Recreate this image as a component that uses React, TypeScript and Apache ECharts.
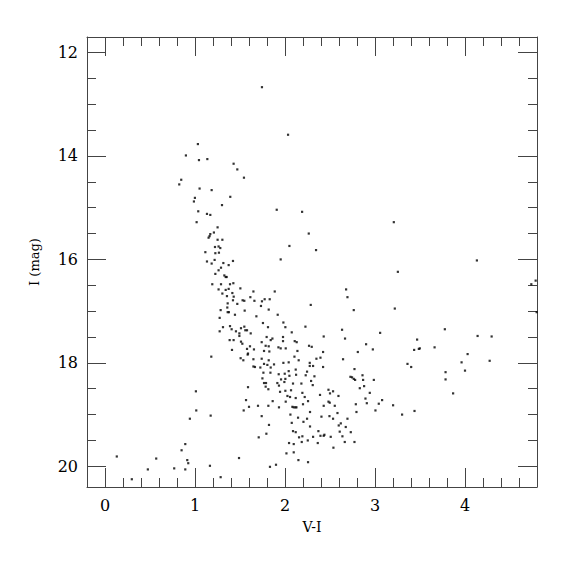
import React, { useEffect, useRef } from "react";
import * as echarts from "echarts";

// V-I colour of each star
const VI: number[] = [
  1.744, 2.034, 1.032, 0.899, 1.044, 1.137, 1.429, 1.47, 1.544, 0.847, 0.825, 1.051, 1.185, 1.392, 0.999, 0.988,
  1.3, 1.908, 2.19, 1.036, 1.133, 1.17, 1.018, 2.264, 1.251, 1.21, 1.17, 1.162, 1.151, 1.251, 1.304, 2.049,
  2.345, 1.222, 1.262, 1.281, 1.115, 1.226, 1.266, 1.952,
  3.209, 4.132, 3.254, 4.785, 4.737, 2.679, 2.694, 2.764, 3.22, 4.796,
  2.286, 2.227, 2.634, 3.776, 2.43, 2.667, 3.057, 3.468, 4.14, 4.296, 2.267, 2.297, 2.901, 2.976, 3.435, 3.487,
  3.498, 3.662, 2.423, 2.809, 2.645, 2.394, 2.349, 4.029, 3.962, 4.274, 3.361, 3.402, 2.275, 2.275, 2.312, 2.423,
  2.772, 2.245, 3.784, 4.0, 2.23, 2.327, 2.727, 2.745, 2.764, 2.779, 2.861, 2.868, 2.987, 3.784, 2.29, 2.182,
  2.308, 2.879, 2.831, 2.483, 2.534, 2.5, 2.942, 3.868, 2.193, 2.389, 2.594, 2.219, 2.894, 2.256, 3.079, 2.483,
  2.497, 2.909, 3.042, 2.2, 2.787, 2.43, 2.553, 3.201, 3.005, 3.439, 3.301, 2.278, 2.794, 2.405, 2.494, 2.583,
  2.534, 2.694, 2.205, 2.245, 2.62, 2.597, 2.278, 2.675, 2.371, 2.608, 2.731, 2.193, 2.312, 2.394, 2.43, 2.438,
  2.508, 2.638, 2.253, 2.186, 2.364, 2.664, 2.772, 2.538,
  1.133, 1.185, 1.218, 1.315, 1.374, 1.422, 1.289, 1.262, 1.226, 1.326, 1.341, 1.352, 1.192, 1.289, 1.389, 1.426,
  1.262, 1.341, 1.374, 1.504, 1.304, 1.415, 1.649, 1.886, 1.355, 1.43, 1.615, 1.422, 1.529, 1.548, 1.66, 1.744,
  1.774, 1.83, 1.363, 1.47, 1.733, 1.359, 1.819, 1.285, 1.363, 1.377, 1.552, 1.444, 1.919, 1.274, 1.682, 1.755,
  1.811, 1.311, 1.389, 1.407, 1.455, 1.511, 1.548, 1.559, 1.578, 1.619, 1.274, 1.493, 1.493, 1.796, 1.385, 1.429,
  1.511, 1.741, 1.526, 1.611, 1.578, 1.655, 1.785, 1.819, 1.86, 1.841, 1.411, 1.589, 1.585, 1.767, 1.826, 1.927,
  1.507, 1.537, 1.649, 1.741, 1.819, 1.181, 1.767, 1.804, 1.649, 1.666, 1.726, 1.841, 1.878,
  1.982, 2.004, 2.075, 1.978, 1.978, 1.952, 2.008, 2.108, 2.13, 2.105, 2.138, 2.041, 1.982, 2.152, 2.119, 2.041,
  1.997, 1.93, 2.049, 2.123, 1.76, 1.838, 1.956, 2.004, 1.749, 1.767, 1.915, 2.089, 1.993, 1.789, 1.785, 1.815,
  1.933, 1.945, 2.004, 2.067, 2.027, 2.056, 2.119, 1.589, 1.567, 1.863, 2.008, 2.082, 2.097, 2.116, 2.127, 1.933,
  1.815, 1.70, 1.6, 1.541, 2.06, 1.741, 2.145, 1.822, 2.075, 2.089, 2.119, 1.793, 1.708, 2.156, 2.045, 2.097,
  2.016, 2.097,
  1.01, 1.014, 0.943, 1.174, 0.892, 0.851, 0.914, 0.925, 0.569, 0.769, 0.892, 1.166, 1.285, 1.489, 1.833, 1.9,
  2.149, 2.256, 0.131, 0.298, 0.476,
];

// I magnitude of each star
const IMAG: number[] = [
  12.67, 13.59, 13.77, 13.99, 14.08, 14.06, 14.15, 14.26, 14.42, 14.46, 14.55, 14.63, 14.66, 14.79, 14.81, 14.88,
  14.95, 15.04, 15.08, 15.07, 15.12, 15.14, 15.28, 15.5, 15.38, 15.48, 15.51, 15.55, 15.58, 15.62, 15.62, 15.74,
  15.82, 15.76, 15.75, 15.78, 15.86, 15.88, 15.87, 16.0,
  15.28, 16.02, 16.24, 16.41, 16.48, 16.58, 16.73, 16.98, 16.95, 17.02,
  16.88, 17.3, 17.36, 17.35, 17.49, 17.53, 17.42, 17.55, 17.48, 17.49, 17.67, 17.69, 17.64, 17.74, 17.75, 17.73,
  17.72, 17.7, 17.79, 17.79, 17.93, 17.9, 17.92, 17.83, 17.99, 17.96, 18.02, 18.08, 18.0, 18.06, 18.06, 18.08,
  18.12, 18.17, 18.18, 18.15, 18.24, 18.26, 18.27, 18.28, 18.31, 18.33, 18.24, 18.33, 18.33, 18.32, 18.35, 18.4,
  18.43, 18.45, 18.49, 18.52, 18.55, 18.59, 18.58, 18.59, 18.58, 18.62, 18.64, 18.66, 18.69, 18.74, 18.72, 18.75,
  18.77, 18.78, 18.79, 18.8, 18.8, 18.83, 18.83, 18.82, 18.92, 18.93, 19.0, 18.95, 18.95, 19.04, 19.03, 18.97,
  19.08, 19.08, 19.14, 19.08, 19.17, 19.21, 19.23, 19.24, 19.32, 19.33, 19.34, 19.42, 19.43, 19.41, 19.41, 19.39,
  19.43, 19.42, 19.5, 19.53, 19.55, 19.53, 19.53, 19.64,
  16.04, 16.08, 16.01, 16.07, 16.11, 16.03, 16.16, 16.21, 16.28, 16.31, 16.34, 16.34, 16.48, 16.48, 16.48, 16.46,
  16.58, 16.59, 16.57, 16.56, 16.66, 16.65, 16.62, 16.62, 16.71, 16.72, 16.73, 16.79, 16.79, 16.8, 16.8, 16.81,
  16.77, 16.77, 16.85, 16.86, 16.9, 16.93, 16.97, 16.98, 17.02, 17.02, 16.99, 17.07, 17.07, 17.13, 17.1, 17.23,
  17.31, 17.31, 17.29, 17.35, 17.39, 17.33, 17.3, 17.37, 17.37, 17.43, 17.39, 17.43, 17.48, 17.5, 17.56, 17.56,
  17.59, 17.6, 17.63, 17.68, 17.73, 17.74, 17.67, 17.68, 17.53, 17.56, 17.75, 17.82, 17.84, 17.77, 17.78, 17.7,
  17.91, 17.95, 17.93, 17.92, 17.95, 17.88, 18.02, 18.04, 18.07, 18.08, 18.09, 18.09, 18.03,
  17.22, 17.31, 17.41, 17.5, 17.58, 17.72, 17.72, 17.58, 17.6, 17.88, 17.77, 17.99, 18.0, 17.95, 18.13, 18.16,
  18.21, 18.22, 18.25, 18.23, 18.19, 18.19, 18.32, 18.31, 18.3, 18.39, 18.39, 18.4, 18.37, 18.39, 18.46, 18.51,
  18.44, 18.56, 18.54, 18.53, 18.64, 18.66, 18.68, 18.47, 18.72, 18.74, 18.75, 18.85, 18.86, 18.86, 18.86, 18.86,
  18.83, 18.83, 18.85, 18.92, 19.0, 19.03, 19.06, 19.2, 19.16, 19.32, 19.34, 19.37, 19.44, 19.44, 19.55, 19.57,
  19.75, 19.73,
  18.55, 18.92, 19.08, 19.02, 19.57, 19.69, 19.88, 19.94, 19.85, 20.04, 20.06, 19.99, 20.21, 19.84, 20.01, 19.97,
  19.88, 19.92, 19.81, 20.25, 20.06,
];

const X_MAJOR_TICKS = [0, 1, 2, 3, 4];
const Y_MAJOR_TICKS = [12, 14, 16, 18, 20];

const X_RANGE = [-0.2, 4.8];
const Y_RANGE = [11.7, 20.4];

export default function App() {
  const ref = useRef<HTMLDivElement>(null);

  useEffect(() => {
    document.body.style.margin = "0";
    if (!ref.current) return;
    const chart = echarts.init(ref.current, undefined, { renderer: "svg" });

    const L = 87, T = 37, W = 450, H = 450;
    const xUnit = W / (X_RANGE[1] - X_RANGE[0]);
    const yUnit = H / (Y_RANGE[1] - Y_RANGE[0]);
    const xMajLeft = L + (X_MAJOR_TICKS[0] - X_RANGE[0]) * xUnit;
    const xMajW = (X_MAJOR_TICKS[X_MAJOR_TICKS.length - 1] - X_MAJOR_TICKS[0]) * xUnit;
    const yMajTop = T + (Y_MAJOR_TICKS[0] - Y_RANGE[0]) * yUnit;
    const yMajH = (Y_MAJOR_TICKS[Y_MAJOR_TICKS.length - 1] - Y_MAJOR_TICKS[0]) * yUnit;

    const lineColor = "#444";
    const font = "DejaVu Serif";
    const labelStyle = { fontFamily: font, fontSize: 16, color: "#000" };
    const noLine = { show: false };
    const minorTick = { show: true, inside: true, length: 9, lineStyle: { color: lineColor, width: 1 } };
    const majorTick = { show: true, inside: true, length: 19, lineStyle: { color: lineColor, width: 1 } };
    const axisLine = { show: true, onZero: false, lineStyle: { color: lineColor, width: 1 } };

    const data = VI.map((v, i) => [v, IMAG[i]]);

    chart.setOption({
      animation: false,
      backgroundColor: "#fff",
      grid: [
        { left: L, top: T, width: W, height: H },
        { left: xMajLeft, top: T, width: xMajW, height: H },
        { left: L, top: yMajTop, width: W, height: yMajH },
        { left: L, top: yMajTop, width: W, height: yMajH },
      ],
      xAxis: [
        {
          gridIndex: 0, type: "value", position: "bottom", min: X_RANGE[0], max: X_RANGE[1], interval: 0.2,
          axisLine, axisTick: minorTick, axisLabel: { show: false }, splitLine: { show: false },
          name: "V-I", nameLocation: "middle", nameGap: 33,
          nameTextStyle: { fontFamily: font, fontSize: 14, color: "#000" },
        },
        {
          gridIndex: 0, type: "value", position: "top", min: X_RANGE[0], max: X_RANGE[1], interval: 0.2,
          axisLine, axisTick: minorTick, axisLabel: { show: false }, splitLine: { show: false },
        },
        {
          gridIndex: 1, type: "value", position: "bottom", min: X_MAJOR_TICKS[0],
          max: X_MAJOR_TICKS[X_MAJOR_TICKS.length - 1], interval: 1,
          axisLine: noLine, axisTick: majorTick, splitLine: { show: false },
          axisLabel: { show: true, margin: 10, ...labelStyle },
        },
        {
          gridIndex: 1, type: "value", position: "top", min: X_MAJOR_TICKS[0],
          max: X_MAJOR_TICKS[X_MAJOR_TICKS.length - 1], interval: 1,
          axisLine: noLine, axisTick: majorTick, splitLine: { show: false }, axisLabel: { show: false },
        },
        { gridIndex: 2, type: "value", show: false },
        { gridIndex: 3, type: "value", show: false },
      ],
      yAxis: [
        {
          gridIndex: 0, type: "value", position: "left", inverse: true, min: Y_RANGE[0], max: Y_RANGE[1],
          axisLine, axisTick: { show: false }, axisLabel: { show: false }, splitLine: { show: false },
          name: "I (mag)", nameLocation: "middle", nameGap: 46, nameRotate: 90,
          nameTextStyle: { fontFamily: font, fontSize: 13, color: "#000" },
        },
        {
          gridIndex: 0, type: "value", position: "right", inverse: true, min: Y_RANGE[0], max: Y_RANGE[1],
          axisLine, axisTick: { show: false }, axisLabel: { show: false }, splitLine: { show: false },
        },
        { gridIndex: 1, type: "value", show: false },
        {
          gridIndex: 2, type: "value", position: "left", inverse: true, min: Y_MAJOR_TICKS[0],
          max: Y_MAJOR_TICKS[Y_MAJOR_TICKS.length - 1], interval: 0.5,
          axisLine: noLine, axisTick: minorTick, axisLabel: { show: false }, splitLine: { show: false },
        },
        {
          gridIndex: 2, type: "value", position: "right", inverse: true, min: Y_MAJOR_TICKS[0],
          max: Y_MAJOR_TICKS[Y_MAJOR_TICKS.length - 1], interval: 0.5,
          axisLine: noLine, axisTick: minorTick, axisLabel: { show: false }, splitLine: { show: false },
        },
        {
          gridIndex: 3, type: "value", position: "left", inverse: true, min: Y_MAJOR_TICKS[0],
          max: Y_MAJOR_TICKS[Y_MAJOR_TICKS.length - 1], interval: 2,
          axisLine: noLine, axisTick: majorTick, splitLine: { show: false },
          axisLabel: { show: true, margin: 9, ...labelStyle },
        },
        {
          gridIndex: 3, type: "value", position: "right", inverse: true, min: Y_MAJOR_TICKS[0],
          max: Y_MAJOR_TICKS[Y_MAJOR_TICKS.length - 1], interval: 2,
          axisLine: noLine, axisTick: majorTick, splitLine: { show: false }, axisLabel: { show: false },
        },
      ],
      series: [
        {
          type: "scatter",
          xAxisIndex: 0,
          yAxisIndex: 0,
          data,
          symbol: "rect",
          symbolSize: 2.2,
          itemStyle: { color: "#000" },
          silent: true,
        },
      ],
    });

    return () => chart.dispose();
  }, []);

  return <div ref={ref} style={{ width: 575, height: 575 }} />;
}
